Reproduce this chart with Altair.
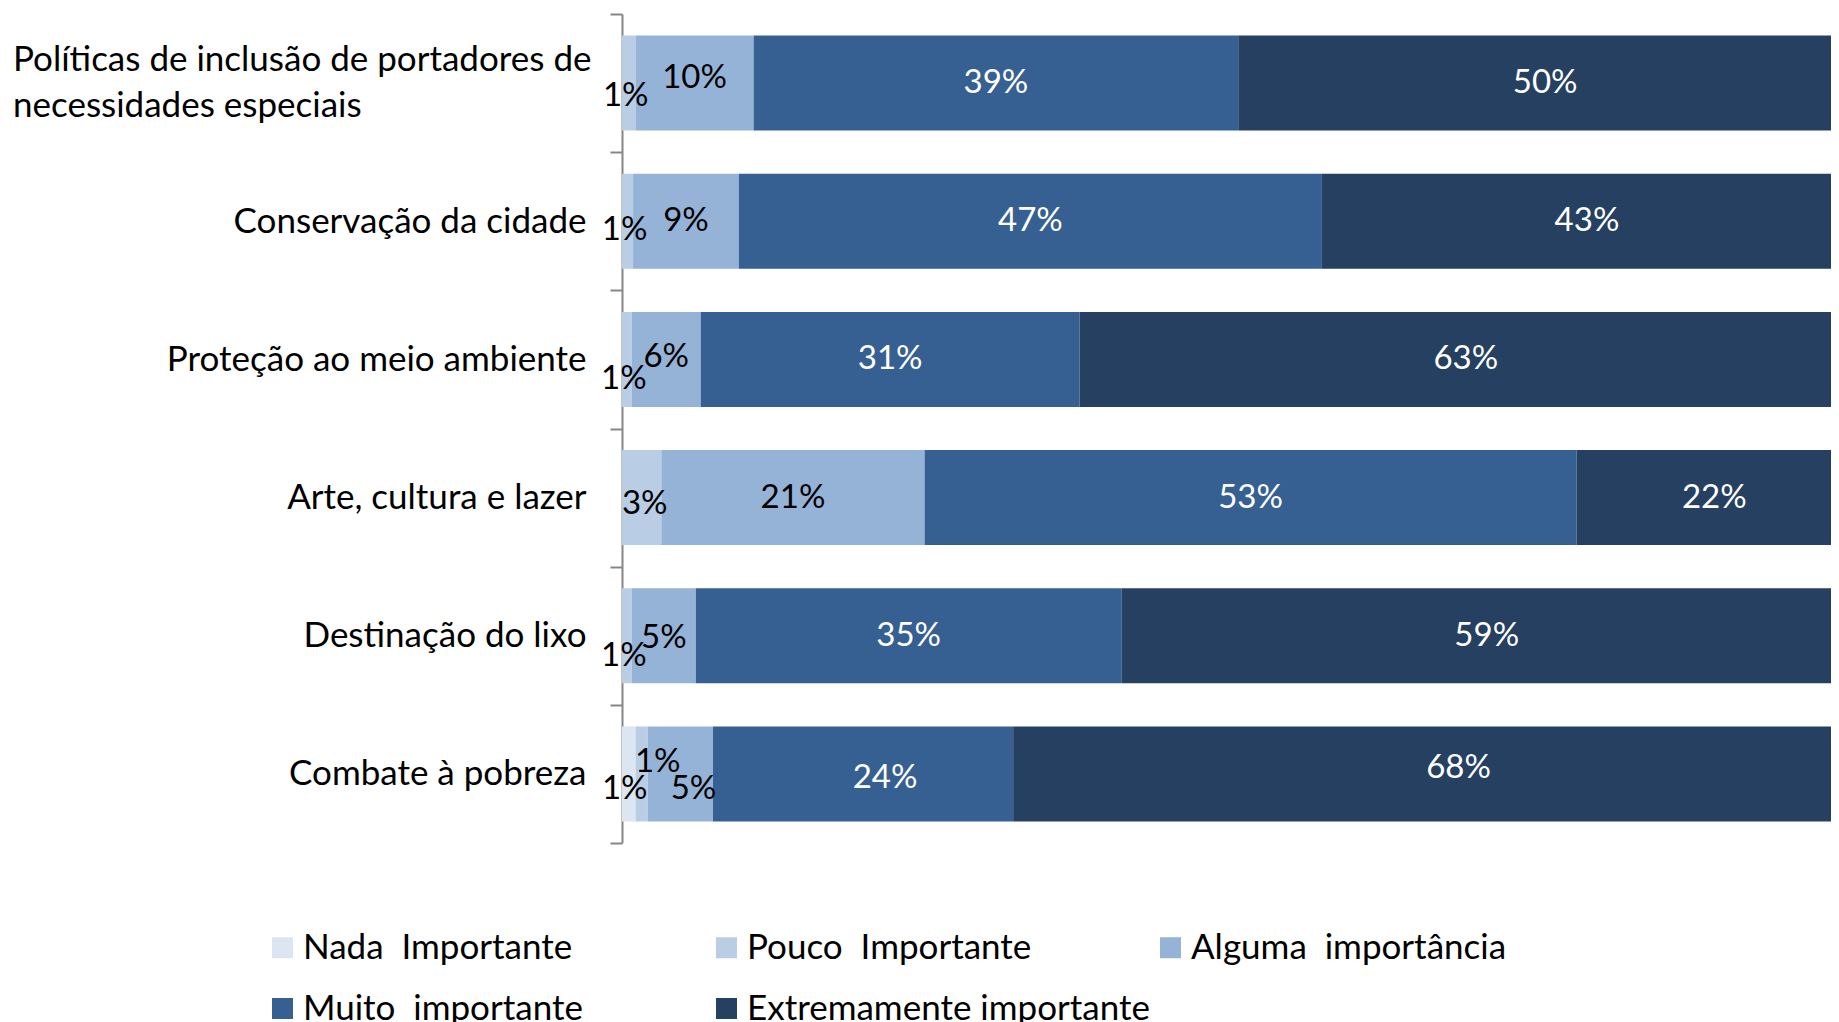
import altair as alt
import pandas as pd

categories = [
    "Políticas de inclusão de portadores de necessidades especiais",
    "Conservação da cidade",
    "Proteção ao meio ambiente",
    "Arte, cultura e lazer",
    "Destinação do lixo",
    "Combate à pobreza",
]
wrapped_label = ["Políticas de inclusão de portadores de", "necessidades especiais"]
levels = [
    "Nada\u00a0 Importante",
    "Pouco\u00a0 Importante",
    "Alguma\u00a0 importância",
    "Muito\u00a0 importante",
    "Extremamente importante",
]
# percentages (bar lengths; labels show them rounded)
nada = [0, 0, 0, 0, 0, 1.1]
pouco = [1.1, 0.9, 0.8, 3.2, 0.8, 1.0]
alguma = [9.6, 8.6, 5.6, 21.4, 5.2, 5.3]
muito = [39.4, 47.4, 30.8, 53.0, 34.6, 24.4]
extremamente = [49.9, 43.1, 62.8, 22.4, 59.4, 68.2]
colors = ["#DCE6F2", "#B9CDE5", "#95B3D7", "#376092", "#254061"]

# manual label nudges (dx, dy) in pixels, as in the original chart
nudges = {
    (0, 1): (-3, 13), (0, 2): (0, -5),
    (1, 1): (-3, 9),
    (2, 1): (-3, 20), (2, 2): (0, -2),
    (3, 1): (3, 6),
    (4, 1): (-3, 20), (4, 2): (0, 2),
    (5, 0): (-4, 15), (5, 1): (16, -12), (5, 2): (13, 15), (5, 3): (22, 4), (5, 4): (26, -6),
}

series = [nada, pouco, alguma, muito, extremamente]
rows = []
for ci, cat in enumerate(categories):
    for li, lev in enumerate(levels):
        v = series[li][ci]
        if v <= 0:
            continue
        dx, dy = nudges.get((ci, li), (0, 0))
        rows.append({
            "cat": cat, "level": lev, "ord": li, "v": v,
            "lbl": f"{v:.0f}%", "dark": li >= 3, "grp": f"{dx}_{dy}",
        })
df = pd.DataFrame(rows)

FONT = "Lato"
FS = 35
FS_DATA = 33

base = alt.Chart(df).transform_stack(
    stack="v", groupby=["cat"], sort=[alt.SortField("ord")], as_=["x0", "x1"]
).transform_calculate(mid="(datum.x0 + datum.x1) / 2")

xscale = alt.Scale(domain=[0, 98.29], nice=False, zero=True)
first = categories[0]
yenc = alt.Y(
    "cat:N", sort=categories, title=None,
    scale=alt.Scale(paddingInner=0, paddingOuter=0),
    axis=alt.Axis(
        labelExpr=f"datum.value == '{first}' ? '' : datum.label",
        labelPadding=24,
        labelFont=FONT, labelFontSize=FS, labelColor="black",
        labelLimit=800, labelOverlap=False,
        domainColor="#868686", domainWidth=2,
        tickColor="#868686", tickWidth=2, tickSize=12, tickBand="extent",
        grid=False,
    ),
)

bars = base.mark_bar(height=alt.RelativeBandSize(0.6876), clip=True).encode(
    x=alt.X("x0:Q", scale=xscale, axis=None),
    x2="x1:Q",
    y=yenc,
    color=alt.Color(
        "level:N",
        scale=alt.Scale(domain=levels, range=colors),
        legend=alt.Legend(
            title=None, orient="none", legendX=-357, legendY=916,
            columns=3, direction="horizontal", gridAlign="all",
            symbolType="square", symbolSize=441, symbolStrokeWidth=0,
            labelFont=FONT, labelFontSize=FS, labelColor="black", labelOffset=3,
            labelLimit=700, columnPadding=3, rowPadding=25, padding=0,
        ),
    ),
)

layers = [bars]
for g in sorted(set(df["grp"])):
    dx, dy = (int(s) for s in g.split("_"))
    for dark, colour in ((True, "white"), (False, "black")):
        sub = df[(df["grp"] == g) & (df["dark"] == dark)]
        if sub.empty:
            continue
        cond = f"datum.grp == '{g}' && {'datum.dark' if dark else '!datum.dark'}"
        layers.append(
            base.transform_filter(cond).mark_text(
                font=FONT, fontSize=FS_DATA, baseline="middle", align="center",
                dx=dx, dy=dy, color=colour,
            ).encode(
                x=alt.X("mid:Q", scale=xscale, axis=None),
                y=alt.Y("cat:N", sort=categories),
                text="lbl:N",
            )
        )

first_label = alt.Chart(pd.DataFrame({"cat": [first], "txt": [wrapped_label]})).mark_text(
    font=FONT, fontSize=FS, align="left", baseline="middle", lineHeight=46, dy=-23, color="black",
).encode(
    x=alt.value(-609),
    y=alt.Y("cat:N", sort=categories),
    text="txt",
)
layers.append(first_label)

chart = alt.layer(*layers).properties(
    width=1209, height=829,
    autosize=alt.AutoSizeParams(type="none"),
    padding={"left": 614, "top": 6, "right": 0, "bottom": 179},
).configure_view(stroke=None)

chart.save("out.html", embed_options={"renderer": "svg", "actions": False})
